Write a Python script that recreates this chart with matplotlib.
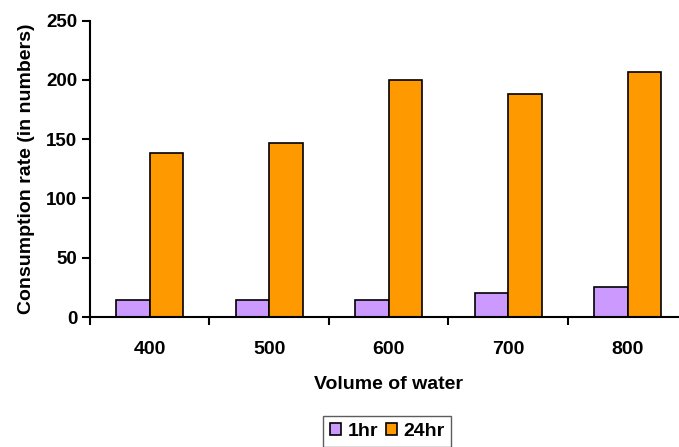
import numpy as np
import matplotlib.pyplot as plt

plt.rcParams['font.family'] = ['Liberation Sans', 'DejaVu Sans']
plt.rcParams['font.weight'] = 'bold'

volumes = ['400', '500', '600', '700', '800']
rate_1hr = [14, 14, 14, 20, 25]
rate_24hr = [138, 147, 200, 188, 207]

fig = plt.figure(figsize=(6.79, 4.47), dpi=100)
ax = fig.add_axes([0.1325, 0.2908, 0.88, 0.663])

x = np.arange(len(volumes))
w = 0.28
ax.bar(x - w / 2, rate_1hr, w, color='#cc99ff', edgecolor='black', linewidth=1.2, label='1hr')
ax.bar(x + w / 2, rate_24hr, w, color='#ff9900', edgecolor='black', linewidth=1.2, label='24hr')

ax.set_xlim(-0.5, len(volumes) - 0.5)
ax.set_ylim(0, 250)
ax.set_yticks([0, 50, 100, 150, 200, 250])
ax.set_xticks(x)
ax.set_xticklabels(volumes)
ax.set_xticks(np.arange(len(volumes) + 1) - 0.5, minor=True)
ax.tick_params(axis='x', which='major', length=0, pad=17, labelsize=14)
ax.tick_params(axis='x', which='minor', length=6, width=1.5, direction='out')
ax.tick_params(axis='y', length=6, width=1.5, labelsize=13.5, pad=3)

for side in ['top', 'right']:
    ax.spines[side].set_visible(False)
for side in ['left', 'bottom']:
    ax.spines[side].set_linewidth(1.5)

ax.set_xlabel('Volume of water', fontsize=14, fontweight='bold', labelpad=13)
ax.set_ylabel('Consumption rate (in numbers)', fontsize=14, fontweight='bold', labelpad=8)

leg = fig.legend(loc='upper center', bbox_to_anchor=(0.57, 0.091), ncol=2,
                 frameon=True, fancybox=False, edgecolor='#333333',
                 prop={'weight': 'bold', 'size': 14},
                 handlelength=0.6, handleheight=0.6, handletextpad=0.3,
                 columnspacing=0.4, borderpad=0.35)
leg.get_frame().set_linewidth(1.0)

fig.savefig('out.png', dpi=100)
